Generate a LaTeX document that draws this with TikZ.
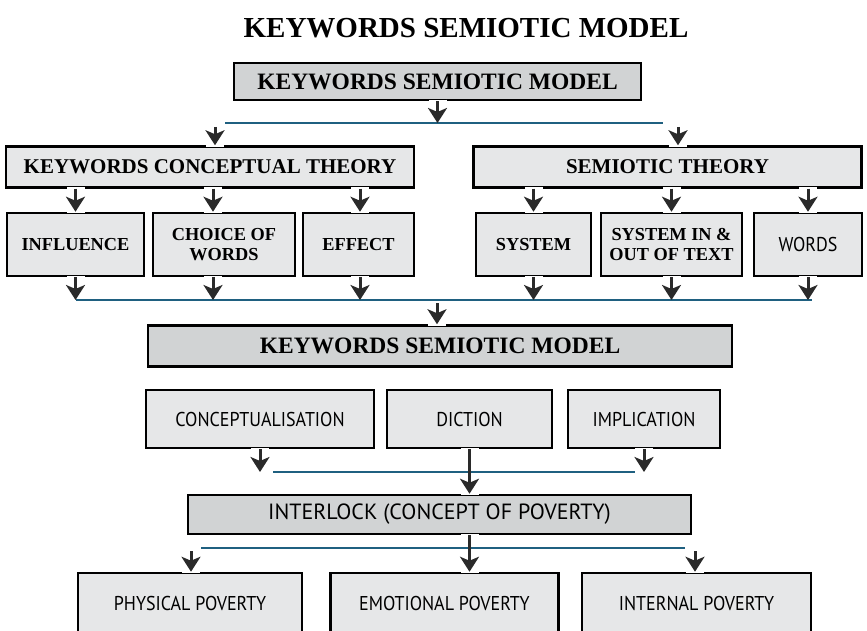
\documentclass[tikz,border=0pt]{standalone}
\usepackage{fontspec}
\setmainfont{Liberation Serif}
\newfontfamily\sansfam[FakeStretch=0.9]{PT Sans}
\newfontfamily\sanswide{PT Sans}
\usetikzlibrary{arrows.meta}

\definecolor{boxlight}{HTML}{E6E7E8}
\definecolor{boxdark}{HTML}{D1D3D4}
\definecolor{linkteal}{HTML}{1F6080}
\definecolor{arrowgray}{HTML}{2A2A2A}

\tikzset{
  box/.style={draw=black, line width=2.5pt, fill=boxlight, inner sep=0pt, align=center},
  darkbox/.style={box, fill=boxdark},
  serifA/.style={font=\bfseries\fontsize{23.5}{27}\selectfont},
  serifB/.style={font=\bfseries\fontsize{21}{25}\selectfont},
  serifC/.style={font=\bfseries\fontsize{18.3}{20}\selectfont},
  sansA/.style={font=\sansfam\fontsize{20}{24}\selectfont},
  sansB/.style={font=\sanswide\fontsize{22}{26}\selectfont},
  link/.style={draw=linkteal, line width=2pt},
  backing/.style={draw=white, line width=18pt, shorten >=-1.5pt, shorten <=-1.5pt},
  arr/.style={draw=arrowgray, line width=3pt,
    -{Stealth[length=15pt, width=19pt, inset=4pt]}},
}

\begin{document}
\begin{tikzpicture}[x=1pt, y=-1pt]
\clip (0,0) rectangle (867,631);
\fill[white] (0,0) rectangle (867,631);

% heading
\node[font=\bfseries\fontsize{29}{34}\selectfont] (title) at (466,28) {KEYWORDS SEMIOTIC MODEL};

% level 1 and 2
\node[darkbox, serifA, minimum width=407, minimum height=37] (A) at (437.5,81.5) {KEYWORDS SEMIOTIC MODEL};
\node[box, serifB, minimum width=408, minimum height=41] (B) at (210,167) {KEYWORDS CONCEPTUAL THEORY};
\node[box, serifB, minimum width=388, minimum height=41] (C) at (667.5,167) {SEMIOTIC THEORY};

% level 3
\node[box, serifC, minimum width=137, minimum height=63] (INF) at (75.5,244.5) {INFLUENCE};
\node[box, serifC, minimum width=142, minimum height=63] (CHO) at (224,244.5) {CHOICE OF\\WORDS};
\node[box, serifC, minimum width=111, minimum height=63] (EFF) at (358.5,244.5) {EFFECT};
\node[box, serifC, minimum width=115, minimum height=63] (SYS) at (533.5,244.5) {SYSTEM};
\node[box, serifC, minimum width=141, minimum height=63] (SIO) at (671.5,244.5) {SYSTEM IN \&\\OUT OF TEXT};
\node[box, sansA, minimum width=108, minimum height=63] (WOR) at (808,244.5) {WORDS};

% model
\node[darkbox, serifA, minimum width=584, minimum height=41] (D) at (440,346) {KEYWORDS SEMIOTIC MODEL};
\node[box, sansA, minimum width=228, minimum height=58] (CON) at (260,419) {CONCEPTUALISATION};
\node[box, sansA, minimum width=165, minimum height=58] (DIC) at (469.5,419) {DICTION};
\node[box, sansA, minimum width=152, minimum height=58] (IMP) at (644,419) {IMPLICATION};

% interlock and outcomes
\node[darkbox, sansB, minimum width=503, minimum height=39] (E) at (439.5,514.5) {INTERLOCK (CONCEPT OF POVERTY)};
\node[box, sansA, minimum width=224, minimum height=60] (PHY) at (190,603) {PHYSICAL POVERTY};
\node[box, sansA, minimum width=228, minimum height=60] (EMO) at (444.5,603) {EMOTIONAL POVERTY};
\node[box, sansA, minimum width=229, minimum height=60] (INT) at (696.5,603) {INTERNAL POVERTY};

% connector rails and free ends
\coordinate (r1a) at (225,123);  \coordinate (r1b) at (663,123);
\coordinate (r2a) at (76,300);   \coordinate (r2b) at (812,300);
\coordinate (r3a) at (273,472);  \coordinate (r3b) at (635,472);
\coordinate (r4a) at (201,548);  \coordinate (r4b) at (685,548);
\coordinate (s1) at (215,127);   \coordinate (s2) at (678,127);
\coordinate (c2) at (213,0);     \coordinate (c3) at (360,0);
\coordinate (m2) at (437,303);
\coordinate (b1) at (191,551);   \coordinate (b3) at (695,551);

% white backing under every arrow
\foreach \p/\q in {
  {A.south}/{A.south |- r1a},
  {s1}/{s1 |- B.north},
  {s2}/{s2 |- C.north},
  {INF.north |- B.south}/{INF.north},
  {c2 |- B.south}/{c2 |- CHO.north},
  {c3 |- B.south}/{c3 |- EFF.north},
  {SYS.north |- C.south}/{SYS.north},
  {SIO.north |- C.south}/{SIO.north},
  {WOR.north |- C.south}/{WOR.north},
  {INF.south}/{INF.south |- r2a},
  {c2 |- CHO.south}/{c2 |- r2a},
  {c3 |- EFF.south}/{c3 |- r2a},
  {SYS.south}/{SYS.south |- r2a},
  {SIO.south}/{SIO.south |- r2a},
  {WOR.south}/{WOR.south |- r2a},
  {m2}/{m2 |- D.north},
  {CON.south}/{CON.south |- r3a},
  {IMP.south}/{IMP.south |- r3a},
  {DIC.south}/{DIC.south |- E.north},
  {DIC.south |- E.south}/{DIC.south |- EMO.north},
  {b1}/{b1 |- PHY.north},
  {b3}/{b3 |- INT.north}}
  {\path[backing] (\p) -- (\q);}

% rails
\draw[link] (r1a) -- (r1b);
\draw[link] (r2a) -- (r2b);
\draw[link] (r3a) -- (r3b);
\draw[link] (r4a) -- (r4b);

% arrows
\draw[arr] (A.south) -- (A.south |- r1a);
\draw[arr] (s1) -- (s1 |- B.north);
\draw[arr] (s2) -- (s2 |- C.north);
\draw[arr] (INF.north |- B.south) -- (INF.north);
\draw[arr] (c2 |- B.south) -- (c2 |- CHO.north);
\draw[arr] (c3 |- B.south) -- (c3 |- EFF.north);
\draw[arr] (SYS.north |- C.south) -- (SYS.north);
\draw[arr] (SIO.north |- C.south) -- (SIO.north);
\draw[arr] (WOR.north |- C.south) -- (WOR.north);
\draw[arr] (INF.south) -- (INF.south |- r2a);
\draw[arr] (c2 |- CHO.south) -- (c2 |- r2a);
\draw[arr] (c3 |- EFF.south) -- (c3 |- r2a);
\draw[arr] (SYS.south) -- (SYS.south |- r2a);
\draw[arr] (SIO.south) -- (SIO.south |- r2a);
\draw[arr] (WOR.south) -- (WOR.south |- r2a);
\draw[arr] (m2) -- (m2 |- D.north);
\draw[arr] (CON.south) -- (CON.south |- r3a);
\draw[arr] (IMP.south) -- (IMP.south |- r3a);
\draw[arr] (DIC.south) -- (DIC.south |- E.north);
\draw[arr] (DIC.south |- E.south) -- (DIC.south |- EMO.north);
\draw[arr] (b1) -- (b1 |- PHY.north);
\draw[arr] (b3) -- (b3 |- INT.north);
\end{tikzpicture}
\end{document}
